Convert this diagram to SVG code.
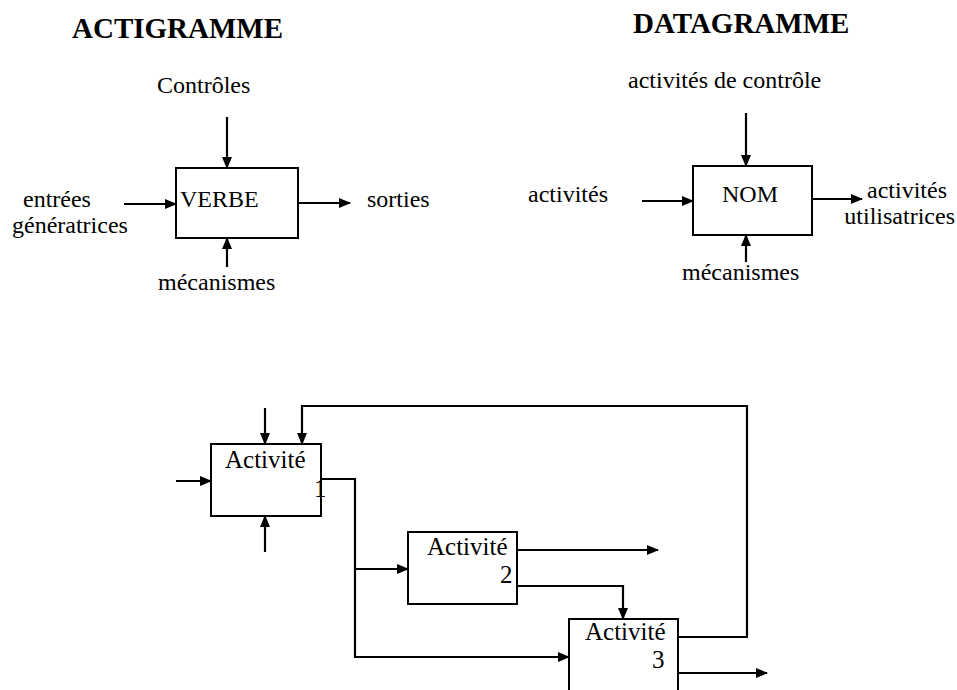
<svg xmlns="http://www.w3.org/2000/svg" width="957" height="690" viewBox="0 0 957 690">
<style>
text{font-family:"Liberation Serif","Times New Roman",serif;fill:#000}
.t{font-size:29px;font-weight:bold}
.l{font-size:24px}
.a{font-size:25px}
.box{fill:#fff;stroke:#000;stroke-width:2}
.c{fill:none;stroke:#000;stroke-width:2.2;marker-end:url(#ah)}
.n{fill:none;stroke:#000;stroke-width:2.2}
</style>
<defs>
<marker id="ah" markerUnits="userSpaceOnUse" markerWidth="12" markerHeight="10" refX="11" refY="5" orient="auto">
<path d="M0,0 L12,5 L0,10 z" fill="#000"/>
</marker>
</defs>
<rect width="957" height="690" fill="#fff"/>
<text class="t" x="72" y="38">ACTIGRAMME</text>
<text class="t" x="633" y="33">DATAGRAMME</text>
<g id="connectors">
<path class="c" d="M227,117 V168"/>
<path class="c" d="M124,204 H176"/>
<path class="c" d="M298,203 H350"/>
<path class="c" d="M227,267 V238"/>
<path class="c" d="M746,113 V166"/>
<path class="c" d="M642,201 H693"/>
<path class="c" d="M812,199 H862"/>
<path class="c" d="M746,262 V235"/>
<path class="c" d="M265,408 V444"/>
<path class="c" d="M678,637 H747 V406 H302 V444"/>
<path class="c" d="M176,481 H211"/>
<path class="c" d="M265,552 V516"/>
<path class="c" d="M321,479 H355 V657 H569"/>
<path class="c" d="M355,569 H408"/>
<path class="c" d="M517,550 H658"/>
<path class="c" d="M517,586 H623 V619"/>
<path class="c" d="M678,673 H767"/>
</g>
<g id="labels">
<text class="l" x="157" y="93">Contrôles</text>
<text class="l" x="23" y="207">entrées</text>
<text class="l" x="12" y="233">génératrices</text>
<text class="l" x="367" y="207">sorties</text>
<text class="l" x="158" y="290">mécanismes</text>
<text class="l" x="628" y="88">activités de contrôle</text>
<text class="l" x="528" y="202">activités</text>
<text class="l" x="867" y="198">activités</text>
<text class="l" x="955" y="224" text-anchor="end">utilisatrices</text>
<text class="l" x="682" y="280">mécanismes</text>
</g>
<g id="verbe">
<rect class="box" x="176" y="168" width="122" height="70"/>
<text class="l" x="180" y="207">VERBE</text>
</g>
<g id="nom">
<rect class="box" x="693" y="166" width="119" height="69"/>
<text class="l" x="722" y="202">NOM</text>
</g>
<g id="activite1">
<rect class="box" x="211" y="444" width="110" height="72"/>
<text class="a" x="225" y="468">Activité</text>
<text class="a" x="314" y="497">1</text>
</g>
<g id="activite2">
<rect class="box" x="408" y="532" width="109" height="72"/>
<text class="a" x="427" y="555">Activité</text>
<text class="a" x="500" y="583">2</text>
</g>
<g id="activite3">
<rect class="box" x="569" y="619" width="109" height="80"/>
<text class="a" x="585" y="640">Activité</text>
<text class="a" x="652" y="668">3</text>
</g>
</svg>
